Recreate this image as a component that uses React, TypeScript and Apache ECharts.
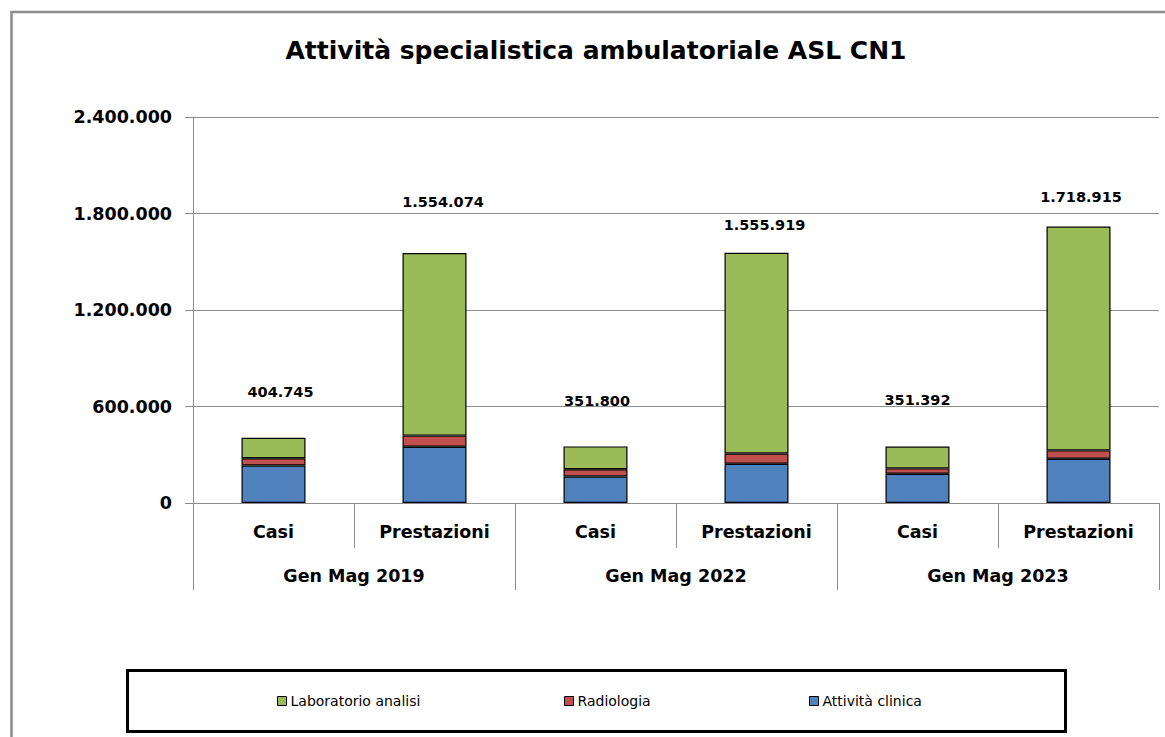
import React, { useEffect, useRef } from "react";
import * as echarts from "echarts";

const categories = ["Casi", "Prestazioni", "Casi", "Prestazioni", "Casi", "Prestazioni"];
const periods = ["Gen Mag 2019", "Gen Mag 2022", "Gen Mag 2023"];
const attivitaClinica = [233000, 350000, 165000, 244000, 182000, 275000];
const radiologia = [45000, 69000, 45000, 64000, 33000, 52000];
const laboratorio = [127000, 1135000, 142000, 1248000, 136000, 1392000];
const totals = [404745, 1554074, 351800, 1555919, 351392, 1718915];
const yTicks = { min: 0, max: 2400000, interval: 600000 };

// manual label displacement (as in the original spreadsheet chart)
const labelOffsets: [number, number][] = [
  [7, -33],
  [8.5, -39],
  [1.5, -33],
  [8, -15],
  [0, -34],
  [2.5, -17],
];

const fmt = (n: number) => String(n).replace(/\B(?=(\d{3})+(?!\d))/g, ".");

const FONT = "'DejaVu Sans', Verdana, sans-serif";
const GRAY = "#8c8c8c";

export default function App() {
  const ref = useRef<HTMLDivElement>(null);
  useEffect(() => {
    if (!ref.current) return;
    const chart = echarts.init(ref.current, undefined, { renderer: "svg" });
    const barBase = {
      type: "bar" as const,
      stack: "tot",
      barWidth: 64,
      xAxisIndex: 0,
      yAxisIndex: 0,
    };
    chart.setOption({
      animation: false,
      backgroundColor: "#ffffff",
      textStyle: { fontFamily: FONT },
      graphic: [
        {
          type: "rect",
          shape: { x: 11.5, y: 12, width: 1170, height: 740 },
          style: { fill: "none", stroke: GRAY, lineWidth: 2.5 },
          silent: true,
        },
        {
          type: "text",
          x: 596,
          y: 50,
          style: {
            text: "Attività specialistica ambulatoriale ASL CN1",
            fontSize: 25,
            fontWeight: "bold",
            fontFamily: FONT,
            fill: "#000",
            align: "center",
            verticalAlign: "middle",
          },
        },
        {
          type: "rect",
          shape: { x: 127.5, y: 670.5, width: 938, height: 61 },
          style: { fill: "none", stroke: "#000", lineWidth: 3 },
          silent: true,
        },
      ],
      legend: [
        { name: "Laboratorio analisi", left: 277 },
        { name: "Radiologia", left: 564 },
        { name: "Attività clinica", left: 809 },
      ].map((l) => ({
        data: [l.name],
        left: l.left,
        top: 694,
        padding: 0,
        itemWidth: 9,
        itemHeight: 9,
        itemGap: 4,
        icon: "rect",
        itemStyle: { borderColor: "#000", borderWidth: 1 },
        textStyle: { fontSize: 14, fontFamily: FONT, color: "#000", padding: [0, 0, 0, -1] },
        selectedMode: false,
      })),
      grid: { left: 193, right: 6, top: 117, bottom: 234, containLabel: false },
      xAxis: [
        {
          type: "category",
          data: categories,
          position: "bottom",
          axisLine: { show: true, lineStyle: { color: GRAY, width: 1 } },
          axisTick: { show: true, length: 45, interval: 0, lineStyle: { color: GRAY, width: 1 } },
          axisLabel: {
            interval: 0,
            margin: 20,
            fontSize: 17.5,
            fontWeight: "bold",
            color: "#000",
            fontFamily: FONT,
          },
        },
        {
          type: "category",
          data: periods,
          position: "bottom",
          offset: 0,
          axisLine: { show: false },
          axisTick: { show: true, length: 87, interval: 0, lineStyle: { color: GRAY, width: 1 } },
          axisLabel: {
            interval: 0,
            margin: 64,
            fontSize: 17.5,
            fontWeight: "bold",
            color: "#000",
            fontFamily: FONT,
          },
        },
      ],
      yAxis: {
        type: "value",
        min: yTicks.min,
        max: yTicks.max,
        interval: yTicks.interval,
        axisLine: { show: true, lineStyle: { color: GRAY, width: 1 } },
        axisTick: { show: true, length: 8, lineStyle: { color: GRAY, width: 1 } },
        splitLine: { show: true, lineStyle: { color: GRAY, width: 1 } },
        axisLabel: {
          margin: 21,
          fontSize: 17.5,
          fontWeight: "bold",
          color: "#000",
          fontFamily: FONT,
          formatter: (v: number) => fmt(v),
        },
      },
      series: [
        {
          ...barBase,
          name: "Attività clinica",
          data: attivitaClinica,
          itemStyle: { color: "#4F81BD", borderColor: "#000", borderWidth: 1.2 },
        },
        {
          ...barBase,
          name: "Radiologia",
          data: radiologia,
          itemStyle: { color: "#C0504D", borderColor: "#000", borderWidth: 1.2 },
        },
        {
          ...barBase,
          name: "Laboratorio analisi",
          itemStyle: { color: "#9BBB59", borderColor: "#000", borderWidth: 1.2 },
          data: laboratorio.map((v, i) => ({
            value: v,
            label: {
              show: true,
              position: "top",
              offset: labelOffsets[i],
              formatter: fmt(totals[i]),
              fontSize: 14.5,
              fontWeight: "bold",
              color: "#000",
              fontFamily: FONT,
            },
          })),
        },
      ],
    });
    return () => chart.dispose();
  }, []);
  return (
    <div
      ref={ref}
      style={{ position: "fixed", left: 0, top: 0, width: 1165, height: 737, background: "#fff" }}
    />
  );
}
